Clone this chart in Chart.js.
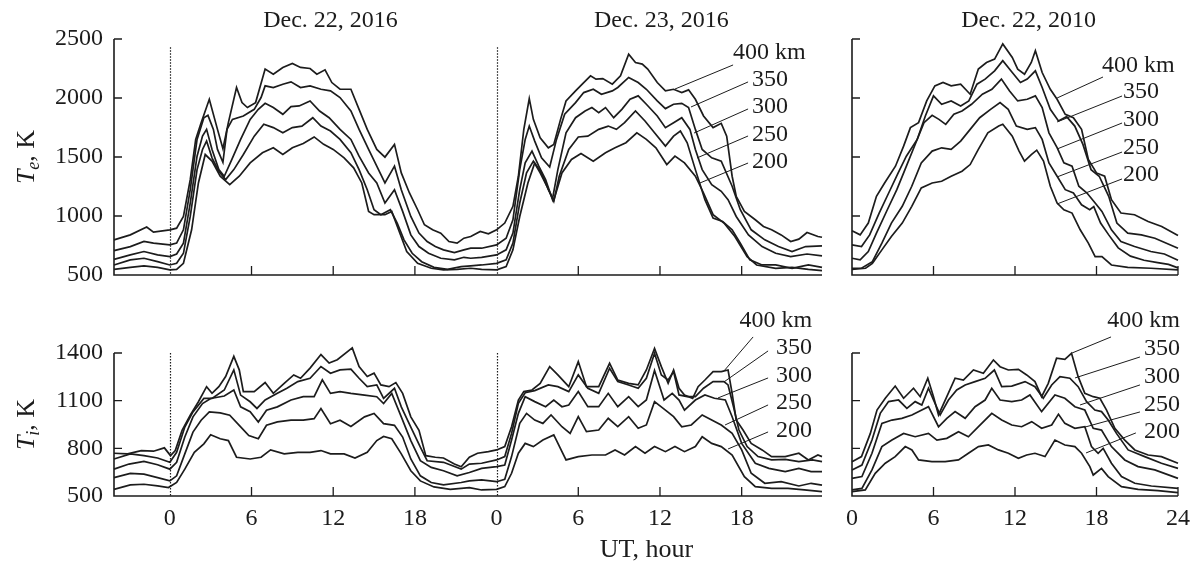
<!DOCTYPE html>
<html>
<head>
<meta charset="utf-8">
<script src="https://cdn.jsdelivr.net/npm/chart.js@4.4.0/dist/chart.umd.min.js"></script>
<style>
    html, body { margin: 0; padding: 0; background: #fff; }
    #wrap { position: relative; width: 1197px; height: 566px; }
    #wrap canvas { position: absolute; left: 0; top: 0; }
</style>
</head>
<body>
<div id="wrap">
    <canvas id="te-2016" width="1197" height="566"></canvas>
    <canvas id="te-2010" width="1197" height="566"></canvas>
    <canvas id="ti-2016" width="1197" height="566"></canvas>
    <canvas id="ti-2010" width="1197" height="566"></canvas>
</div>
<script>
// Electron (Te) and ion (Ti) temperature, K, vs UT hour
// Dec. 22-23, 2016 panels run from -4 h (Dec 21) to 48 h (end of Dec 23)

const altitudes = ['400 km', '350', '300', '250', '200'];
const hourTicks2016 = [0, 6, 12, 18, 24, 30, 36, 42];
const hourTicks2010 = [0, 6, 12, 18, 24];
const teTicks = [500, 1000, 1500, 2000, 2500];
const tiTicks = [500, 800, 1100, 1400];

const te2016_400 = [[-4.1,798],[-2.9,840],[-1.7,906],[-1.2,863],[0,883],[0.5,897],[1.0,996],[1.5,1308],[1.9,1649],[2.3,1790],[2.9,1989],[3.5,1734],[3.9,1570],[4.3,1791],[4.9,2089],[5.3,1961],[5.7,1919],[6.3,1961],[7.0,2245],[7.6,2202],[8.3,2259],[9.0,2293],[9.6,2259],[10.3,2250],[10.8,2202],[11.4,2239],[11.9,2131],[12.5,2074],[13.3,2074],[13.9,1904],[14.5,1734],[15.2,1564],[15.8,1499],[16.5,1607],[17.0,1365],[17.6,1195],[18.2,1053],[18.7,926],[19.3,883],[19.9,855],[20.5,784],[21.1,770],[21.6,812],[22.1,826],[22.8,869],[23.4,849],[24.0,883],[24.6,940],[25.2,1082],[25.6,1337],[26.0,1734],[26.4,1995],[26.7,1819],[27.2,1663],[27.8,1578],[28.2,1606],[28.7,1819],[29.1,1975],[29.8,2060],[30.4,2131],[30.9,2188],[31.3,2160],[31.8,2165],[32.5,2117],[33.1,2188],[33.7,2372],[34.2,2301],[34.7,2287],[35.1,2245],[35.8,2131],[36.4,2060],[37.0,2074],[37.6,2046],[38.1,2069],[38.6,1989],[39.2,1848],[39.9,1749],[40.5,1785],[40.9,1677],[41.3,1337],[41.6,1167],[42.2,1039],[43.0,968],[43.6,911],[44.2,883],[44.9,840],[45.6,784],[46.2,804],[46.8,860],[47.6,826],[47.9,820]];
const te2016_350 = [[-4.1,707],[-2.9,741],[-1.9,784],[-1.2,770],[0,755],[0.5,770],[1.0,883],[1.5,1223],[2.0,1649],[2.5,1833],[2.8,1853],[3.2,1734],[3.5,1564],[3.9,1455],[4.2,1734],[4.6,1819],[5.4,1848],[6.2,1904],[6.7,2004],[7.0,2103],[7.6,2089],[8.3,2117],[8.9,2137],[9.6,2089],[10.3,2103],[11.1,2074],[11.8,2060],[12.5,2004],[13.3,1890],[13.9,1734],[14.6,1564],[15.2,1422],[15.8,1280],[16.5,1422],[17.0,1223],[17.7,996],[18.3,855],[18.9,784],[19.5,741],[20.1,713],[20.9,690],[21.6,713],[22.1,727],[22.9,727],[24.0,755],[24.7,812],[25.2,968],[25.7,1393],[26.1,1649],[26.4,1762],[26.8,1635],[27.3,1493],[27.9,1415],[28.4,1649],[29.0,1862],[29.8,1961],[30.4,2046],[31.1,2074],[31.7,2032],[32.5,2060],[32.9,2089],[33.7,2174],[34.4,2131],[35.0,2074],[35.8,1975],[36.4,1910],[37.0,1947],[37.6,1955],[38.1,1919],[38.6,1734],[39.1,1564],[39.8,1493],[40.5,1465],[41.3,1252],[41.9,1053],[42.7,883],[43.7,798],[44.7,741],[45.7,699],[46.7,741],[47.9,747]];
const te2016_300 = [[-4.1,633],[-2.9,670],[-1.9,699],[-0.9,670],[0,656],[0.5,678],[1.0,770],[1.5,1110],[2.0,1507],[2.4,1677],[2.7,1734],[3.1,1564],[3.6,1393],[4.0,1337],[4.5,1465],[5.2,1649],[5.9,1819],[6.5,1904],[7.0,1955],[7.6,1919],[8.3,1862],[8.9,1927],[9.5,1933],[10.3,1975],[11.0,1890],[11.7,1833],[12.5,1734],[13.3,1649],[13.9,1507],[14.6,1365],[15.2,1280],[15.8,1110],[16.5,1223],[17.1,1039],[17.7,840],[18.3,741],[19.0,684],[19.9,642],[20.9,628],[21.6,650],[22.1,642],[22.9,650],[24.0,670],[24.7,713],[25.2,855],[25.7,1223],[26.1,1450],[26.6,1550],[27.1,1422],[27.6,1308],[28.1,1140],[28.5,1393],[29.1,1705],[29.8,1833],[30.5,1890],[31.0,1919],[31.5,1876],[32.0,1919],[32.6,1833],[33.2,1904],[33.8,1989],[34.4,2018],[35.0,1947],[35.8,1848],[36.4,1749],[37.0,1791],[37.6,1833],[38.2,1734],[38.6,1564],[39.1,1393],[39.8,1266],[40.5,1209],[41.0,1138],[41.6,996],[42.5,840],[43.5,741],[44.5,684],[45.6,656],[46.8,678],[47.9,662]];
const te2016_250 = [[-4.1,585],[-2.9,628],[-1.9,642],[-0.9,613],[0,585],[0.5,599],[1.0,684],[1.5,996],[2.0,1393],[2.4,1564],[2.7,1635],[3.1,1493],[3.6,1379],[4.1,1308],[4.7,1393],[5.4,1521],[6.2,1677],[6.9,1777],[7.6,1749],[8.3,1705],[9.0,1749],[9.7,1762],[10.5,1833],[11.1,1762],[11.8,1720],[12.5,1649],[13.3,1536],[13.9,1393],[14.5,1223],[15.0,1053],[15.5,1011],[16.2,1053],[16.7,940],[17.2,798],[17.8,684],[18.5,613],[19.4,565],[20.4,548],[21.4,571],[22.1,577],[22.9,585],[24.0,599],[24.7,628],[25.2,770],[25.7,1110],[26.2,1365],[26.7,1465],[27.2,1365],[27.7,1252],[28.2,1124],[28.6,1337],[29.3,1564],[30.0,1670],[30.7,1677],[31.5,1734],[32.2,1762],[32.8,1734],[33.4,1791],[34.2,1890],[34.9,1805],[35.6,1705],[36.4,1592],[37.0,1677],[37.5,1720],[38.0,1621],[38.6,1393],[39.3,1138],[39.9,982],[40.6,954],[41.3,883],[41.9,770],[42.6,628],[43.5,585],[44.5,585],[45.7,557],[46.9,585],[47.9,565]];
const te2016_200 = [[-4.1,548],[-2.9,565],[-1.9,577],[-0.9,565],[0,543],[0.5,548],[1.0,599],[1.6,883],[2.1,1280],[2.6,1521],[3.1,1465],[3.7,1337],[4.4,1266],[5.1,1337],[5.9,1450],[6.8,1536],[7.6,1578],[8.3,1521],[9.0,1578],[9.8,1615],[10.6,1670],[11.3,1607],[12.0,1564],[12.8,1493],[13.5,1408],[14.1,1280],[14.6,1039],[15.0,1011],[15.8,1011],[16.3,1039],[16.8,883],[17.4,699],[18.2,599],[19.2,557],[20.1,543],[21.1,548],[22.1,557],[22.9,548],[24.0,543],[24.7,571],[25.2,713],[25.7,996],[26.3,1280],[26.8,1450],[27.3,1365],[27.8,1223],[28.2,1133],[28.8,1365],[29.5,1479],[30.2,1530],[31.1,1465],[32.0,1536],[32.7,1578],[33.5,1621],[34.3,1705],[35.0,1649],[35.7,1578],[36.5,1436],[37.1,1507],[37.8,1450],[38.6,1337],[39.2,1195],[39.9,1011],[40.7,940],[41.5,826],[42.4,656],[43.1,585],[44.5,557],[45.7,565],[46.9,548],[47.9,537]];

const te2010_400 = [[0,875],[0.6,840],[1.2,940],[1.8,1167],[2.4,1280],[3.2,1422],[3.8,1592],[4.3,1749],[4.9,1791],[5.5,1975],[6.1,2103],[6.7,2131],[7.3,2103],[8.0,2117],[8.7,2032],[9.3,2245],[9.9,2301],[10.5,2330],[11.1,2458],[11.8,2344],[12.2,2245],[12.7,2202],[13.2,2301],[13.5,2401],[14.0,2216],[14.6,2074],[15.1,1989],[15.7,1862],[16.3,1833],[16.9,1734],[17.4,1479],[18.0,1365],[18.6,1337],[19.1,1138],[19.8,1025],[20.8,1011],[21.8,954],[22.8,911],[24.0,835]];
const te2010_350 = [[0,755],[0.7,741],[1.3,840],[2.0,1025],[2.7,1195],[3.4,1365],[4.0,1507],[4.8,1649],[5.4,1848],[6.0,2018],[6.6,1947],[7.3,1975],[8.0,1933],[8.6,1975],[9.2,2117],[9.8,2160],[10.5,2230],[11.1,2316],[11.8,2216],[12.4,2131],[12.9,2160],[13.5,2230],[14.0,2089],[14.6,1904],[15.2,1805],[15.8,1842],[16.4,1762],[17.0,1607],[17.6,1393],[18.2,1337],[18.9,1167],[19.5,940],[20.3,855],[21.3,840],[22.3,812],[24.0,727]];
const te2010_300 = [[0,642],[0.6,628],[1.2,699],[1.8,855],[2.6,1053],[3.3,1223],[3.9,1393],[4.7,1621],[5.3,1791],[5.9,1853],[6.4,1819],[6.9,1777],[7.5,1862],[8.1,1890],[8.8,1947],[9.6,2032],[10.3,2074],[11.0,2160],[11.6,2060],[12.2,1975],[12.9,1989],[13.5,2018],[14.0,1919],[14.5,1705],[15.1,1580],[15.6,1450],[16.2,1422],[16.7,1252],[17.3,1195],[17.9,1110],[18.4,1039],[19.1,883],[19.8,784],[20.8,741],[22.0,699],[23.0,678],[24.0,625]];
const te2010_250 = [[0,557],[0.7,557],[1.5,613],[2.2,770],[2.9,940],[3.7,1082],[4.4,1252],[5.1,1450],[5.9,1550],[6.6,1578],[7.3,1564],[8.0,1635],[8.7,1734],[9.4,1833],[10.2,1904],[10.9,1961],[11.5,1904],[12.1,1762],[12.9,1734],[13.5,1749],[14.0,1649],[14.5,1450],[15.1,1337],[15.7,1223],[16.3,1195],[16.9,1095],[17.5,1053],[17.8,1080],[18.3,940],[18.9,840],[19.6,730],[20.5,660],[21.5,625],[22.5,605],[23.3,590],[24.0,560]];
const te2010_200 = [[0,548],[1.0,557],[1.5,599],[2.2,713],[2.9,826],[3.7,940],[4.4,1082],[5.1,1238],[5.9,1280],[6.6,1294],[7.3,1337],[8.1,1379],[8.7,1436],[9.3,1564],[10.0,1705],[10.8,1762],[11.1,1777],[11.8,1677],[12.3,1550],[12.7,1465],[13.2,1521],[13.6,1558],[14.1,1465],[14.6,1252],[15.1,1110],[15.6,1053],[16.2,1025],[16.8,883],[17.4,770],[17.9,656],[18.4,656],[19.1,585],[20.3,565],[22.0,557],[24.0,543]];

const ti2016_400 = [[-4.1,769],[-3.1,765],[-2.1,786],[-1.2,782],[-0.4,803],[0.05,754],[0.4,786],[0.9,913],[1.5,1008],[2.1,1093],[2.7,1188],[3.1,1146],[3.6,1188],[4.1,1252],[4.7,1379],[5.1,1294],[5.4,1157],[6.2,1157],[7.0,1214],[7.6,1146],[8.4,1209],[9.1,1262],[9.6,1241],[10.3,1305],[11.1,1390],[11.7,1337],[12.3,1358],[13.4,1432],[13.9,1315],[14.5,1252],[15.0,1273],[15.5,1199],[16.1,1188],[16.6,1214],[17.1,1146],[17.7,998],[18.3,913],[18.8,754],[19.5,744],[20.1,739],[20.9,701],[21.4,684],[22.0,744],[22.6,769],[23.4,779],[24.0,790],[24.6,811],[25.1,936],[25.6,1104],[26.0,1157],[26.6,1167],[27.2,1209],[27.9,1314],[28.5,1262],[29.3,1188],[30.0,1346],[30.6,1188],[31.5,1188],[32.3,1335],[32.9,1230],[33.7,1209],[34.4,1199],[35.0,1293],[35.6,1429],[36.1,1314],[36.6,1209],[37.0,1293],[37.4,1178],[37.8,1136],[38.4,1115],[38.8,1188],[39.3,1230],[39.9,1283],[40.5,1283],[41.0,1293],[41.3,1146],[41.6,978],[42.1,915],[42.7,831],[43.5,790],[44.2,748],[45.2,748],[46.2,769],[46.9,727],[47.6,758],[47.9,748]];
const ti2016_350 = [[-4.1,733],[-2.9,765],[-1.9,754],[-0.9,739],[0,712],[0.5,775],[1.1,934],[1.7,1029],[2.5,1114],[3.1,1114],[4.0,1167],[4.7,1294],[5.2,1135],[5.9,1093],[6.4,1051],[7.0,1104],[7.9,1146],[8.6,1178],[9.4,1220],[10.3,1241],[11.1,1315],[11.8,1273],[12.5,1294],[13.3,1298],[13.9,1241],[14.5,1188],[15.2,1199],[15.7,1114],[16.5,1178],[17.0,1061],[17.7,934],[18.4,807],[18.9,722],[20.1,712],[21.4,669],[22.0,701],[22.9,706],[24.0,727],[24.6,748],[25.1,894],[25.6,1083],[26.1,1150],[26.8,1163],[27.8,1199],[28.5,1188],[29.3,1157],[30.0,1262],[30.7,1178],[31.5,1146],[32.3,1304],[32.9,1220],[33.7,1199],[34.4,1178],[35.0,1241],[35.6,1398],[36.1,1262],[36.6,1230],[37.0,1283],[37.4,1136],[38.0,1125],[38.6,1125],[39.2,1178],[39.9,1220],[40.7,1220],[41.0,1199],[41.4,1062],[41.8,915],[42.4,811],[43.2,748],[44.2,727],[45.2,731],[46.2,716],[47.2,727],[47.9,716]];
const ti2016_300 = [[-4.1,669],[-3.0,701],[-1.9,718],[-0.9,697],[0,669],[0.5,712],[1.1,871],[1.7,998],[2.4,1082],[3.0,1114],[4.0,1129],[4.7,1167],[5.2,1061],[5.9,1030],[6.5,966],[7.1,1040],[7.9,1061],[8.9,1104],[9.8,1125],[10.6,1125],[11.2,1231],[11.8,1146],[12.5,1157],[13.3,1146],[14.3,1135],[15.2,1125],[15.7,1082],[16.3,1146],[17.0,998],[17.7,849],[18.4,722],[19.2,680],[20.1,659],[21.1,627],[22.0,648],[22.9,674],[24.0,685],[24.6,695],[25.1,852],[25.6,1020],[26.1,1125],[26.8,1094],[27.6,1062],[28.2,1104],[28.8,1062],[29.3,1073],[30.0,1157],[30.7,1062],[31.5,1062],[32.2,1146],[32.9,1062],[33.7,1125],[34.4,1062],[35.0,1104],[35.6,1290],[36.3,1104],[36.9,1146],[37.4,1104],[37.8,1041],[38.6,1104],[39.3,1136],[40.0,1115],[40.8,1104],[41.3,999],[42.0,831],[43.0,706],[44.0,674],[45.2,653],[46.2,674],[47.1,653],[47.9,653]];
const ti2016_250 = [[-4.1,616],[-2.9,642],[-1.9,638],[-0.9,616],[0,595],[0.5,627],[1.1,765],[1.7,902],[2.3,977],[2.9,1030],[3.7,1023],[4.4,1008],[5.1,945],[5.8,881],[6.5,860],[7.1,945],[7.9,966],[8.9,977],[9.8,977],[10.6,987],[11.1,1051],[11.8,955],[12.5,977],[13.3,938],[14.3,998],[15.0,1019],[15.7,955],[16.5,945],[17.1,871],[17.7,733],[18.4,627],[19.2,585],[20.1,570],[21.4,585],[22.0,595],[22.9,601],[24.0,590],[24.6,605],[25.1,748],[25.7,957],[26.2,1020],[26.8,978],[27.4,957],[28.0,1010],[28.8,936],[29.4,894],[30.0,999],[30.6,905],[31.5,915],[32.2,989],[32.9,936],[33.7,999],[34.4,926],[35.0,947],[35.6,1094],[36.4,1041],[37.0,999],[37.6,936],[38.3,947],[39.1,1010],[39.8,978],[40.5,947],[41.3,894],[42.0,790],[42.7,643],[43.7,580],[44.9,590],[46.2,563],[47.1,580],[47.9,569]];
const ti2016_200 = [[-4.1,542],[-2.9,570],[-1.9,574],[-0.9,564],[-0.1,553],[0.5,585],[1.1,669],[1.8,775],[2.5,828],[3.0,885],[3.7,860],[4.3,849],[4.9,744],[5.9,733],[6.7,744],[7.4,790],[8.4,765],[9.4,775],[10.3,775],[11.1,786],[11.8,765],[12.8,765],[13.6,739],[14.5,775],[15.2,849],[15.7,875],[16.3,860],[17.0,765],[17.7,659],[18.4,595],[19.4,557],[20.6,542],[22.0,553],[22.9,538],[24.0,542],[24.6,559],[25.1,643],[25.6,769],[26.1,831],[26.7,811],[27.4,852],[28.2,884],[29.1,727],[30.0,748],[31.0,758],[32.0,758],[32.7,790],[33.4,758],[34.2,811],[34.9,769],[35.6,811],[36.4,779],[37.1,811],[37.8,779],[38.6,811],[39.1,873],[39.8,831],[40.5,811],[41.3,758],[42.2,622],[43.0,559],[44.2,548],[45.4,548],[46.6,538],[47.9,527]];

const ti2010_400 = [[0,716],[0.7,748],[1.35,894],[1.84,1041],[2.45,1115],[3.18,1192],[3.8,1115],[4.53,1178],[5.02,1125],[5.58,1241],[6.0,1125],[6.37,1010],[6.98,1125],[7.59,1241],[8.2,1230],[8.94,1293],[9.67,1272],[10.41,1356],[10.9,1314],[11.51,1293],[12.25,1297],[12.86,1262],[13.47,1220],[13.96,1125],[14.45,1209],[15.06,1367],[15.67,1360],[16.16,1398],[16.65,1251],[17.14,1146],[17.76,1125],[18.25,1115],[18.74,1041],[19.35,926],[20.08,852],[20.82,790],[21.8,758],[22.78,748],[24.0,706]];
const ti2010_350 = [[0,664],[0.73,695],[1.47,852],[2.08,1020],[2.69,1094],[3.43,1104],[4.04,1052],[4.65,1094],[5.14,1073],[5.63,1178],[6.0,1104],[6.49,1010],[7.1,1104],[7.71,1167],[8.33,1199],[9.06,1220],[9.8,1241],[10.48,1293],[11.02,1188],[11.76,1192],[12.74,1220],[13.47,1188],[14.08,1115],[14.7,1199],[15.31,1251],[16.04,1241],[16.65,1188],[17.27,1094],[17.88,1041],[18.37,1031],[18.86,978],[19.47,894],[20.33,790],[21.55,748],[22.78,706],[24.0,674]];
const ti2010_300 = [[0,611],[0.73,622],[1.47,769],[2.2,957],[2.94,978],[3.67,989],[4.41,1010],[5.14,1041],[5.63,1062],[6.37,936],[6.98,989],[7.59,1031],[8.33,989],[9.06,1062],[9.8,1104],[10.29,1178],[10.9,1104],[11.76,1094],[12.49,1104],[13.1,1136],[13.96,1031],[14.94,1136],[15.67,1115],[16.41,1062],[17.14,1041],[17.76,926],[18.37,915],[19.1,811],[20.08,727],[21.06,685],[22.29,664],[24.0,611]];
const ti2010_250 = [[0,538],[0.73,548],[1.47,664],[2.2,811],[2.94,852],[3.8,894],[4.65,873],[5.63,894],[6.25,852],[6.98,863],[7.84,905],[8.57,873],[9.31,936],[10.29,1020],[11.02,978],[11.76,947],[12.49,936],[13.23,968],[13.96,926],[14.7,947],[15.2,1015],[15.67,957],[16.41,926],[17.14,936],[17.63,811],[18.12,769],[18.49,800],[19.1,706],[19.84,622],[20.82,580],[22.04,563],[24.0,548]];
const ti2010_200 = [[0,527],[0.98,538],[1.71,643],[2.45,706],[3.18,748],[3.92,811],[4.41,790],[4.9,727],[5.88,716],[6.86,716],[7.84,727],[8.57,769],[9.31,811],[10.04,821],[10.78,790],[11.51,769],[12.25,737],[12.86,758],[13.47,769],[14.21,748],[14.94,852],[15.67,821],[16.41,811],[16.9,769],[17.51,685],[17.76,632],[18.37,674],[18.86,622],[19.84,559],[21.06,542],[22.53,534],[24.0,521]];

const INK = '#1c1c1c';
const SERIF = '"Liberation Serif", "Times New Roman", serif';
const PAGE_W = 1197, PAGE_H = 566;
const Y_AXIS_W = 100;   // room kept for the y tick labels
const X_AXIS_H = 50;    // room kept for the x tick labels

function toDatasets(curves) {
    return curves.map((pts, i) => ({
        label: altitudes[i],
        data: pts.map(([h, k]) => ({ x: h, y: k })),
        borderColor: INK,
        borderWidth: 1.7,
        pointRadius: 0,
        tension: 0,
        fill: false,
        clip: 10
    }));
}

// axis title like "Te, K" with italic T and a subscript
function drawTempTitle(ctx, cx, cy, sub) {
    ctx.save();
    ctx.translate(cx, cy);
    ctx.rotate(-Math.PI / 2);
    const big = 'italic 26px ' + SERIF, small = 'italic 18px ' + SERIF, roman = '26px ' + SERIF;
    ctx.font = big; const wT = ctx.measureText('T').width;
    ctx.font = small; const wS = ctx.measureText(sub).width;
    ctx.font = roman; const wR = ctx.measureText(', K').width;
    let px = -(wT + wS + wR) / 2;
    ctx.fillStyle = INK;
    ctx.textAlign = 'left';
    ctx.textBaseline = 'alphabetic';
    ctx.font = big; ctx.fillText('T', px, 9); px += wT;
    ctx.font = small; ctx.fillText(sub, px, 14); px += wS;
    ctx.font = roman; ctx.fillText(', K', px, 9);
    ctx.restore();
}

// frame, inward ticks, day separators, titles and altitude labels
function decoPlugin(cfg) {
    return {
        id: 'deco',
        afterDraw(chart) {
            const { ctx, chartArea: a, scales: { x, y } } = chart;
            ctx.save();
            ctx.strokeStyle = INK;
            ctx.fillStyle = INK;

            ctx.lineWidth = 1.6;
            ctx.beginPath();
            ctx.moveTo(a.left, a.top);
            ctx.lineTo(a.left, a.bottom);
            ctx.lineTo(a.right, a.bottom);
            ctx.stroke();

            ctx.lineWidth = 1.3;
            ctx.beginPath();
            cfg.yMarks.forEach(v => {
                const py = y.getPixelForValue(v);
                ctx.moveTo(a.left, py);
                ctx.lineTo(a.left + 8, py);
            });
            cfg.xMarks.forEach(v => {
                const px = x.getPixelForValue(v);
                ctx.moveTo(px, a.bottom);
                ctx.lineTo(px, a.bottom - 9);
            });
            ctx.stroke();

            ctx.setLineDash([1.5, 1.5]);
            ctx.lineWidth = 1.2;
            ctx.beginPath();
            (cfg.dayLines || []).forEach(h => {
                const px = Math.round(x.getPixelForValue(h)) + 0.5;
                ctx.moveTo(px, y.getPixelForValue(cfg.dayLineTop));
                ctx.lineTo(px, a.bottom);
            });
            ctx.stroke();
            ctx.setLineDash([]);

            ctx.font = '24px ' + SERIF;
            ctx.textBaseline = 'middle';
            ctx.textAlign = 'center';
            (cfg.titles || []).forEach(t => {
                ctx.fillText(t.text, x.getPixelForValue(t.h), a.top - 18);
            });

            ctx.lineWidth = 1;
            ctx.beginPath();
            cfg.leaders.forEach(([h1, v1, h2, v2]) => {
                ctx.moveTo(x.getPixelForValue(h1), y.getPixelForValue(v1));
                ctx.lineTo(x.getPixelForValue(h2), y.getPixelForValue(v2));
            });
            ctx.stroke();

            ctx.textAlign = cfg.labelAlign;
            cfg.labels.forEach(([h, v], i) => {
                ctx.fillText(altitudes[i], x.getPixelForValue(h), y.getPixelForValue(v));
            });

            if (cfg.extra) cfg.extra(ctx, a, x, y);
            ctx.restore();
        }
    };
}

function panel(id, cfg) {
    const [left, right, top, bottom] = cfg.box;
    new Chart(document.getElementById(id), {
        type: 'line',
        data: { datasets: toDatasets(cfg.curves) },
        options: {
            responsive: false,
            animation: false,
            events: [],
            layout: {
                padding: {
                    left: left - Y_AXIS_W,
                    right: PAGE_W - right,
                    top: top,
                    bottom: PAGE_H - bottom - X_AXIS_H
                }
            },
            plugins: { legend: { display: false }, tooltip: { enabled: false } },
            scales: {
                x: {
                    type: 'linear',
                    min: cfg.xRange[0],
                    max: cfg.xRange[1],
                    grid: { display: false, drawTicks: false },
                    border: { display: false },
                    afterBuildTicks: s => { s.ticks = cfg.xTicks.map(v => ({ value: v })); },
                    afterFit: s => { s.height = X_AXIS_H; s.paddingLeft = 0; s.paddingRight = 0; },
                    ticks: {
                        display: cfg.xLabels,
                        autoSkip: false,
                        maxRotation: 0,
                        padding: 8,
                        color: INK,
                        font: { family: SERIF, size: 24 },
                        callback: v => String(cfg.wrapDay ? ((v % 24) + 24) % 24 : v)
                    }
                },
                y: {
                    type: 'linear',
                    min: cfg.yTicks[0],
                    max: cfg.yTicks[cfg.yTicks.length - 1],
                    grid: { display: false, drawTicks: false },
                    border: { display: false },
                    afterBuildTicks: s => { s.ticks = cfg.yTicks.map(v => ({ value: v })); },
                    afterFit: s => { s.width = Y_AXIS_W; s.paddingTop = 0; s.paddingBottom = 0; },
                    ticks: {
                        display: cfg.yLabels,
                        padding: 11,
                        color: INK,
                        font: { family: SERIF, size: 24 },
                        callback: v => String(v)
                    }
                }
            }
        },
        plugins: [decoPlugin(cfg)]
    });
}

panel('te-2016', {
    box: [114, 822, 39, 275],
    xRange: [-4.1, 47.9], xTicks: hourTicks2016, xLabels: false, wrapDay: true,
    yTicks: teTicks, yLabels: true,
    curves: [te2016_400, te2016_350, te2016_300, te2016_250, te2016_200],
    yMarks: [1000, 1500, 2000, 2500], xMarks: [6, 12, 18, 30, 36, 42],
    dayLines: [0, 24], dayLineTop: 2430,
    titles: [{ text: 'Dec. 22, 2016', h: 11.8 }, { text: 'Dec. 23, 2016', h: 36.1 }],
    labelAlign: 'left',
    labels: [[41.37, 2381], [42.76, 2153], [42.76, 1924], [42.76, 1687], [42.76, 1458]],
    leaders: [[41.37, 2280, 37.1, 2076], [42.47, 2136, 38.28, 1924], [42.47, 1907, 38.5, 1703], [42.47, 1678, 38.72, 1492], [42.47, 1449, 38.94, 1280]],
    extra: (ctx, a) => drawTempTitle(ctx, 25, (a.top + a.bottom) / 2, 'e')
});

panel('te-2010', {
    box: [852, 1178, 39, 275],
    xRange: [0, 24], xTicks: hourTicks2010, xLabels: false, wrapDay: false,
    yTicks: teTicks, yLabels: false,
    curves: [te2010_400, te2010_350, te2010_300, te2010_250, te2010_200],
    yMarks: [1000, 1500, 2000, 2500], xMarks: [6, 12, 18, 24],
    titles: [{ text: 'Dec. 22, 2010', h: 13 }],
    labelAlign: 'left',
    labels: [[18.4, 2271], [19.96, 2051], [19.96, 1814], [19.96, 1576], [19.96, 1347]],
    leaders: [[18.48, 2178, 15.1, 2000], [19.88, 2017, 15.1, 1797], [19.88, 1788, 15.1, 1568], [19.88, 1542, 15.1, 1331], [19.88, 1314, 15.1, 1102]]
});

panel('ti-2016', {
    box: [114, 822, 353, 496],
    xRange: [-4.1, 47.9], xTicks: hourTicks2016, xLabels: true, wrapDay: true,
    yTicks: tiTicks, yLabels: true,
    curves: [ti2016_400, ti2016_350, ti2016_300, ti2016_250, ti2016_200],
    yMarks: [800, 1100, 1400], xMarks: [6, 12, 18, 30, 36, 42],
    dayLines: [0, 24], dayLineTop: 1400,
    labelAlign: 'right',
    labels: [[47.17, 1601], [47.17, 1431], [47.17, 1255], [47.17, 1085], [47.17, 909]],
    leaders: [[42.84, 1501, 40.63, 1280], [43.94, 1413, 40.7, 1218], [43.94, 1243, 40.26, 1117], [43.94, 1073, 40.78, 947], [43.94, 903, 41.0, 796]],
    extra: (ctx, a, x) => {
        drawTempTitle(ctx, 25, (a.top + a.bottom) / 2, 'i');
        ctx.font = '26px ' + SERIF;
        ctx.textAlign = 'center';
        ctx.fillText('UT, hour', x.getPixelForValue(35), a.bottom + 54);
    }
});

panel('ti-2010', {
    box: [852, 1178, 353, 496],
    xRange: [0, 24], xTicks: hourTicks2010, xLabels: true, wrapDay: false,
    yTicks: tiTicks, yLabels: false,
    curves: [ti2010_400, ti2010_350, ti2010_300, ti2010_250, ti2010_200],
    yMarks: [800, 1100, 1400], xMarks: [6, 12, 18, 24],
    labelAlign: 'right',
    labels: [[24.15, 1601], [24.15, 1425], [24.15, 1249], [24.15, 1073], [24.15, 903]],
    leaders: [[19.07, 1501, 16.2, 1400], [21.2, 1375, 16.42, 1243], [21.2, 1199, 16.79, 1073], [21.2, 1029, 17.16, 934], [20.9, 897, 17.23, 771]]
});
</script>
</body>
</html>
